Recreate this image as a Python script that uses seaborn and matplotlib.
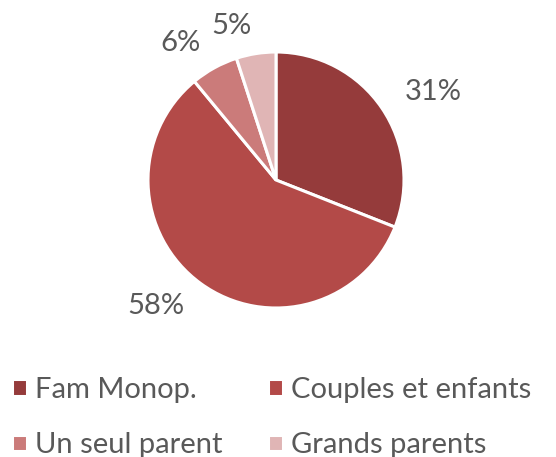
import matplotlib
matplotlib.use("Agg")
import matplotlib.pyplot as plt
import seaborn as sns

# data
categories = ['Fam Monop.', 'Couples et enfants', 'Un seul parent', 'Grands parents']
shares = [31, 58, 6, 5]
colors = ['#953B3B', '#B34A48', '#CB7B7A', '#E0B5B5']

sns.set_theme(style="white")
plt.rcParams['font.family'] = ['Lato', 'DejaVu Sans']
text_color = '#595959'

fig = plt.figure(figsize=(5.56, 4.57), dpi=100)
ax = fig.add_axes([116 / 556, 117 / 457, 320 / 556, 320 / 457])

# percentage labels placed outside, aligned away from the pie like Excel does
wedges, texts = ax.pie(
    shares, labels=[f'{s}%' for s in shares], labeldistance=1.22,
    colors=sns.color_palette(colors), startangle=90, counterclock=False,
    wedgeprops=dict(edgecolor='white', linewidth=2.2),
    textprops=dict(color=text_color, fontsize=21),
)

# legend filled row by row
order = [0, 2, 1, 3]
fig.legend([wedges[i] for i in order], [categories[i] for i in order],
           ncol=2, loc='upper left', bbox_to_anchor=(12 / 556, 0.175),
           frameon=False, fontsize=21, labelcolor=text_color,
           borderpad=0, borderaxespad=0,
           handlelength=0.5, handleheight=0.5, handletextpad=0.3,
           columnspacing=1.55, labelspacing=1.0)

fig.savefig('out.png', dpi=100)
